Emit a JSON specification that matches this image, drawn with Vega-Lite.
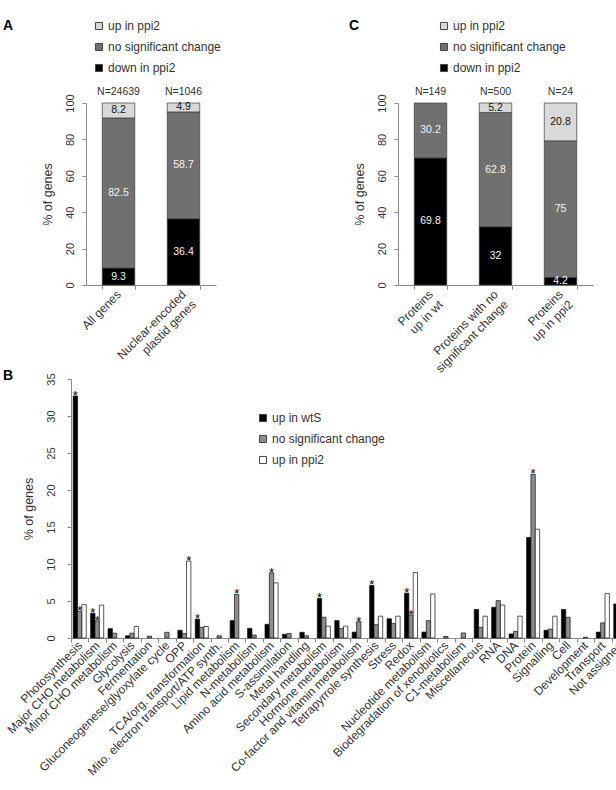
{
  "$schema": "https://vega.github.io/schema/vega-lite/v6.json",
  "background": "white",
  "padding": {"left": 3, "top": 19, "right": 0, "bottom": 0},
  "config": {
    "font": "Liberation Sans",
    "view": {"stroke": null},
    "axis": {
      "grid": false,
      "domainColor": "#8a8a8a",
      "tickColor": "#8a8a8a",
      "tickSize": 4,
      "labelColor": "#333333",
      "titleColor": "#333333",
      "labelFont": "Liberation Sans",
      "titleFont": "Liberation Sans",
      "titleFontWeight": "normal",
      "labelFontSize": 11,
      "titleFontSize": 12.5,
      "labelOverlap": false
    },
    "axisY": {"labelAngle": -90, "labelOverlap": false, "titlePadding": 10},
    "legend": {
      "labelFont": "Liberation Sans",
      "labelFontSize": 12,
      "labelColor": "#333333",
      "symbolType": "square",
      "symbolSize": 50,
      "symbolStrokeColor": "#444444",
      "symbolStrokeWidth": 1,
      "rowPadding": 9,
      "padding": 0,
      "labelOffset": 3
    },
    "title": {"font": "Liberation Sans", "fontSize": 14, "fontWeight": "bold", "color": "#000000"}
  },
  "spacing": -6,
  "resolve": {
    "scale": {"x": "independent", "y": "independent", "color": "independent"},
    "legend": {"color": "independent"}
  },
  "vconcat": [
    {
      "hconcat": [
        {
          "title": {"text": "A", "anchor": "start", "frame": "group", "offset": 0, "dx": -68, "dy": 13},
          "width": 145,
          "height": 182,
          "data": {"values": [
            {"grp": "All genes", "cat": "down in ppi2", "k": 1, "pct": 9.3},
            {"grp": "All genes", "cat": "no significant change", "k": 2, "pct": 82.5},
            {"grp": "All genes", "cat": "up in ppi2", "k": 3, "pct": 8.2},
            {"grp": "Nuclear-encoded plastid genes", "cat": "down in ppi2", "k": 1, "pct": 36.4},
            {"grp": "Nuclear-encoded plastid genes", "cat": "no significant change", "k": 2, "pct": 58.7},
            {"grp": "Nuclear-encoded plastid genes", "cat": "up in ppi2", "k": 3, "pct": 4.9}
          ]},
          "encoding": {
            "x": {
              "field": "grp", "type": "nominal", "sort": null,
              "scale": {"range": [15, 145], "paddingInner": 0.5, "paddingOuter": 0.25},
              "axis": {
                "title": null, "labelAngle": -45, "labelAlign": "right", "labelBaseline": "middle",
                "labelFontSize": 12, "labelPadding": 3, "tickBand": "extent", "labelLimit": 300,
                "labelExpr": "datum.label == 'Nuclear-encoded plastid genes' ? ['Nuclear-encoded', 'plastid genes'] : datum.label"
              }
            }
          },
          "layer": [
            {
              "mark": {"type": "bar", "stroke": "#3c3c3c", "strokeWidth": 0.7},
              "encoding": {
                "y": {
                  "field": "pct", "type": "quantitative", "stack": "zero", "title": "% of genes",
                  "scale": {"domain": [0, 100]},
                  "axis": {"values": [0, 20, 40, 60, 80, 100], "labelAngle": -90, "labelOverlap": false, "labelPadding": 7, "titlePadding": 10, "offset": -15}
                },
                "order": {"field": "k"},
                "color": {
                  "field": "cat", "type": "nominal",
                  "scale": {"domain": ["up in ppi2", "no significant change", "down in ppi2"], "range": ["#d9d9d9", "#707070", "#000000"]},
                  "legend": {"title": null, "orient": "none", "legendX": 22, "legendY": -83}
                }
              }
            },
            {
              "mark": {"type": "text", "fontSize": 10.5, "baseline": "middle"},
              "encoding": {
                "y": {
                  "field": "pct", "type": "quantitative", "stack": "zero", "bandPosition": 0.5, "title": "% of genes",
                  "axis": {"values": [0, 20, 40, 60, 80, 100], "labelAngle": -90, "labelOverlap": false, "labelPadding": 7, "titlePadding": 10, "offset": -15}
                },
                "order": {"field": "k"},
                "detail": {"field": "cat"},
                "text": {"field": "pct", "type": "quantitative", "format": "~g"},
                "color": {"condition": {"test": "datum.cat === 'up in ppi2'", "value": "#111111"}, "value": "#f4f4f4"}
              }
            },
            {
              "data": {"values": [
                {"grp": "All genes", "n": "N=24639"},
                {"grp": "Nuclear-encoded plastid genes", "n": "N=1046"}
              ]},
              "mark": {"type": "text", "fontSize": 10.5, "baseline": "middle", "dy": -11, "color": "#333333"},
              "encoding": {
                "y": {
                  "datum": 100, "type": "quantitative", "title": "% of genes",
                  "axis": {"values": [0, 20, 40, 60, 80, 100], "labelAngle": -90, "labelOverlap": false, "labelPadding": 7, "titlePadding": 10, "offset": -15}
                },
                "text": {"field": "n"}
              }
            }
          ]
        },
        {
          "title": {"text": "C", "anchor": "start", "frame": "group", "offset": 0, "dx": -49, "dy": 13},
          "width": 195,
          "height": 182,
          "data": {"values": [
            {"set": "Proteins up in wt", "cat": "down in ppi2", "k": 1, "pct": 69.8},
            {"set": "Proteins up in wt", "cat": "no significant change", "k": 2, "pct": 30.2},
            {"set": "Proteins with no significant change", "cat": "down in ppi2", "k": 1, "pct": 32},
            {"set": "Proteins with no significant change", "cat": "no significant change", "k": 2, "pct": 62.8},
            {"set": "Proteins with no significant change", "cat": "up in ppi2", "k": 3, "pct": 5.2},
            {"set": "Proteins up in ppi2", "cat": "down in ppi2", "k": 1, "pct": 4.2},
            {"set": "Proteins up in ppi2", "cat": "no significant change", "k": 2, "pct": 75},
            {"set": "Proteins up in ppi2", "cat": "up in ppi2", "k": 3, "pct": 20.8}
          ]},
          "encoding": {
            "x": {
              "field": "set", "type": "nominal", "sort": null,
              "scale": {"paddingInner": 0.5, "paddingOuter": 0.25},
              "axis": {
                "title": null, "labelAngle": -45, "labelAlign": "right", "labelBaseline": "middle",
                "labelFontSize": 12, "labelPadding": 3, "tickBand": "extent", "labelLimit": 300,
                "labelExpr": "datum.label == 'Proteins up in wt' ? ['Proteins', 'up in wt'] : datum.label == 'Proteins up in ppi2' ? ['Proteins', 'up in ppi2'] : datum.label == 'Proteins with no significant change' ? ['Proteins with no', 'significant change'] : datum.label"
              }
            }
          },
          "layer": [
            {
              "mark": {"type": "bar", "stroke": "#3c3c3c", "strokeWidth": 0.7},
              "encoding": {
                "y": {
                  "field": "pct", "type": "quantitative", "stack": "zero", "title": "% of genes",
                  "scale": {"domain": [0, 100]},
                  "axis": {"values": [0, 20, 40, 60, 80, 100], "labelAngle": -90, "labelOverlap": false, "labelPadding": 7, "titlePadding": 10}
                },
                "order": {"field": "k"},
                "color": {
                  "field": "cat", "type": "nominal",
                  "scale": {"domain": ["up in ppi2", "no significant change", "down in ppi2"], "range": ["#d9d9d9", "#707070", "#000000"]},
                  "legend": {"title": null, "orient": "none", "legendX": 40, "legendY": -83}
                }
              }
            },
            {
              "mark": {"type": "text", "fontSize": 10.5, "baseline": "middle"},
              "encoding": {
                "y": {
                  "field": "pct", "type": "quantitative", "stack": "zero", "bandPosition": 0.5, "title": "% of genes",
                  "axis": {"values": [0, 20, 40, 60, 80, 100], "labelAngle": -90, "labelOverlap": false, "labelPadding": 7, "titlePadding": 10}
                },
                "order": {"field": "k"},
                "detail": {"field": "cat"},
                "text": {"field": "pct", "type": "quantitative", "format": "~g"},
                "color": {"condition": {"test": "datum.cat === 'up in ppi2'", "value": "#111111"}, "value": "#f4f4f4"}
              }
            },
            {
              "data": {"values": [
                {"set": "Proteins up in wt", "n": "N=149"},
                {"set": "Proteins with no significant change", "n": "N=500"},
                {"set": "Proteins up in ppi2", "n": "N=24"}
              ]},
              "mark": {"type": "text", "fontSize": 10.5, "baseline": "middle", "dy": -11, "color": "#333333"},
              "encoding": {
                "y": {
                  "datum": 100, "type": "quantitative", "title": "% of genes",
                  "axis": {"values": [0, 20, 40, 60, 80, 100], "labelAngle": -90, "labelOverlap": false, "labelPadding": 7, "titlePadding": 10}
                },
                "text": {"field": "n"}
              }
            }
          ]
        }
      ],
      "spacing": 182,
      "bounds": "flush",
      "resolve": {
        "scale": {"x": "independent", "y": "independent", "color": "independent"},
        "legend": {"color": "independent"}
      }
    },
    {
      "title": {"text": "B", "anchor": "start", "frame": "group", "offset": 0, "dx": -68, "dy": 10.5},
      "width": 558,
      "height": 259,
      "data": {"values": [
        {"cls": "Photosynthesis", "ser": "up in wtS", "v": 32.7, "sig": true},
        {"cls": "Photosynthesis", "ser": "no significant change", "v": 3.6, "sig": true},
        {"cls": "Photosynthesis", "ser": "up in ppi2", "v": 4.5, "sig": false},
        {"cls": "Major CHO metabolism", "ser": "up in wtS", "v": 3.35, "sig": true},
        {"cls": "Major CHO metabolism", "ser": "no significant change", "v": 2.3, "sig": true},
        {"cls": "Major CHO metabolism", "ser": "up in ppi2", "v": 4.45, "sig": false},
        {"cls": "Minor CHO metabolism", "ser": "up in wtS", "v": 1.27, "sig": false},
        {"cls": "Minor CHO metabolism", "ser": "no significant change", "v": 0.65, "sig": false},
        {"cls": "Glycolysis", "ser": "up in wtS", "v": 0.3, "sig": false},
        {"cls": "Glycolysis", "ser": "no significant change", "v": 0.65, "sig": false},
        {"cls": "Glycolysis", "ser": "up in ppi2", "v": 1.55, "sig": false},
        {"cls": "Fermentation", "ser": "no significant change", "v": 0.25, "sig": false},
        {"cls": "Gluconeogenese/glyoxylate cycle", "ser": "no significant change", "v": 0.77, "sig": false},
        {"cls": "OPP", "ser": "up in wtS", "v": 1.04, "sig": false},
        {"cls": "OPP", "ser": "no significant change", "v": 0.6, "sig": false},
        {"cls": "OPP", "ser": "up in ppi2", "v": 10.4, "sig": true},
        {"cls": "TCA/org. transformation", "ser": "up in wtS", "v": 2.55, "sig": true},
        {"cls": "TCA/org. transformation", "ser": "no significant change", "v": 1.45, "sig": false},
        {"cls": "TCA/org. transformation", "ser": "up in ppi2", "v": 1.55, "sig": false},
        {"cls": "Mito. electron transport/ATP synth.", "ser": "no significant change", "v": 0.3, "sig": false},
        {"cls": "Lipid metabolism", "ser": "up in wtS", "v": 2.35, "sig": false},
        {"cls": "Lipid metabolism", "ser": "no significant change", "v": 5.9, "sig": true},
        {"cls": "N-metabolism", "ser": "up in wtS", "v": 1.3, "sig": false},
        {"cls": "N-metabolism", "ser": "no significant change", "v": 0.4, "sig": false},
        {"cls": "Amino acid metabolism", "ser": "up in wtS", "v": 1.85, "sig": false},
        {"cls": "Amino acid metabolism", "ser": "no significant change", "v": 8.8, "sig": true},
        {"cls": "Amino acid metabolism", "ser": "up in ppi2", "v": 7.45, "sig": false},
        {"cls": "S-assimilation", "ser": "up in wtS", "v": 0.5, "sig": false},
        {"cls": "S-assimilation", "ser": "no significant change", "v": 0.6, "sig": false},
        {"cls": "Metal handling", "ser": "up in wtS", "v": 0.77, "sig": false},
        {"cls": "Metal handling", "ser": "no significant change", "v": 0.3, "sig": false},
        {"cls": "Secondary metabolism", "ser": "up in wtS", "v": 5.35, "sig": true},
        {"cls": "Secondary metabolism", "ser": "no significant change", "v": 2.8, "sig": false},
        {"cls": "Secondary metabolism", "ser": "up in ppi2", "v": 1.6, "sig": false},
        {"cls": "Hormone metabolism", "ser": "up in wtS", "v": 2.35, "sig": false},
        {"cls": "Hormone metabolism", "ser": "no significant change", "v": 1.3, "sig": false},
        {"cls": "Hormone metabolism", "ser": "up in ppi2", "v": 1.6, "sig": false},
        {"cls": "Co-factor and vitamin metabolism", "ser": "up in wtS", "v": 0.8, "sig": false},
        {"cls": "Co-factor and vitamin metabolism", "ser": "no significant change", "v": 2.2, "sig": true},
        {"cls": "Tetrapyrrole synthesis", "ser": "up in wtS", "v": 7.1, "sig": true},
        {"cls": "Tetrapyrrole synthesis", "ser": "no significant change", "v": 1.8, "sig": false},
        {"cls": "Tetrapyrrole synthesis", "ser": "up in ppi2", "v": 2.95, "sig": false},
        {"cls": "Stress", "ser": "up in wtS", "v": 2.6, "sig": false},
        {"cls": "Stress", "ser": "no significant change", "v": 1.95, "sig": false},
        {"cls": "Stress", "ser": "up in ppi2", "v": 2.95, "sig": false},
        {"cls": "Redox", "ser": "up in wtS", "v": 6.05, "sig": true},
        {"cls": "Redox", "ser": "no significant change", "v": 3.1, "sig": true},
        {"cls": "Redox", "ser": "up in ppi2", "v": 8.85, "sig": false},
        {"cls": "Nucleotide metabolism", "ser": "up in wtS", "v": 0.8, "sig": false},
        {"cls": "Nucleotide metabolism", "ser": "no significant change", "v": 2.35, "sig": false},
        {"cls": "Nucleotide metabolism", "ser": "up in ppi2", "v": 5.95, "sig": false},
        {"cls": "Biodegradation of xenobiotics", "ser": "no significant change", "v": 0.2, "sig": false},
        {"cls": "C1-metabolism", "ser": "no significant change", "v": 0.68, "sig": false},
        {"cls": "Miscellaneous", "ser": "up in wtS", "v": 3.86, "sig": false},
        {"cls": "Miscellaneous", "ser": "no significant change", "v": 1.45, "sig": false},
        {"cls": "Miscellaneous", "ser": "up in ppi2", "v": 2.95, "sig": false},
        {"cls": "RNA", "ser": "up in wtS", "v": 4.15, "sig": false},
        {"cls": "RNA", "ser": "no significant change", "v": 5.05, "sig": false},
        {"cls": "RNA", "ser": "up in ppi2", "v": 4.45, "sig": false},
        {"cls": "DNA", "ser": "up in wtS", "v": 0.55, "sig": false},
        {"cls": "DNA", "ser": "no significant change", "v": 0.9, "sig": false},
        {"cls": "DNA", "ser": "up in ppi2", "v": 2.95, "sig": false},
        {"cls": "Protein", "ser": "up in wtS", "v": 13.6, "sig": false},
        {"cls": "Protein", "ser": "no significant change", "v": 22.1, "sig": true},
        {"cls": "Protein", "ser": "up in ppi2", "v": 14.7, "sig": false},
        {"cls": "Signalling", "ser": "up in wtS", "v": 1.05, "sig": false},
        {"cls": "Signalling", "ser": "no significant change", "v": 1.2, "sig": false},
        {"cls": "Signalling", "ser": "up in ppi2", "v": 2.95, "sig": false},
        {"cls": "Cell", "ser": "up in wtS", "v": 3.86, "sig": false},
        {"cls": "Cell", "ser": "no significant change", "v": 2.8, "sig": false},
        {"cls": "Development", "ser": "no significant change", "v": 0.1, "sig": false},
        {"cls": "Transport", "ser": "up in wtS", "v": 0.8, "sig": false},
        {"cls": "Transport", "ser": "no significant change", "v": 2.05, "sig": false},
        {"cls": "Transport", "ser": "up in ppi2", "v": 6.0, "sig": false},
        {"cls": "Not assigned", "ser": "up in wtS", "v": 4.6, "sig": false}
      ]},
      "encoding": {
        "x": {
          "field": "cls", "type": "nominal", "sort": null,
          "scale": {"paddingInner": 0, "paddingOuter": 0},
          "axis": {
            "title": null, "labelAngle": -45, "labelAlign": "right", "labelBaseline": "middle",
            "labelFontSize": 12, "labelPadding": 1, "tickBand": "extent", "labelLimit": 300, "labelOverlap": false
          }
        },
        "xOffset": {
          "field": "ser", "type": "nominal",
          "sort": ["up in wtS", "no significant change", "up in ppi2"],
          "scale": {"paddingInner": 0, "paddingOuter": 0.5}
        }
      },
      "layer": [
        {
          "mark": {"type": "bar", "stroke": "#111111", "strokeWidth": 0.7},
          "encoding": {
            "y": {
              "field": "v", "type": "quantitative", "title": "% of genes",
              "scale": {"domain": [0, 35]},
              "axis": {"values": [0, 5, 10, 15, 20, 25, 30, 35], "labelAngle": -90, "labelOverlap": false, "labelPadding": 11, "titlePadding": 10}
            },
            "color": {
              "field": "ser", "type": "nominal",
              "scale": {"domain": ["up in wtS", "no significant change", "up in ppi2"], "range": ["#000000", "#8e8e8e", "#ffffff"]},
              "legend": {"title": null, "orient": "none", "legendX": 186, "legendY": 33}
            }
          }
        },
        {
          "transform": [{"filter": "datum.sig"}],
          "mark": {"type": "text", "text": "*", "fontSize": 13, "baseline": "alphabetic", "dy": 4, "color": "#000000"},
          "encoding": {
            "y": {
              "field": "v", "type": "quantitative", "title": "% of genes",
              "axis": {"values": [0, 5, 10, 15, 20, 25, 30, 35], "labelAngle": -90, "labelOverlap": false, "labelPadding": 11, "titlePadding": 10}
            }
          }
        }
      ]
    }
  ]
}
